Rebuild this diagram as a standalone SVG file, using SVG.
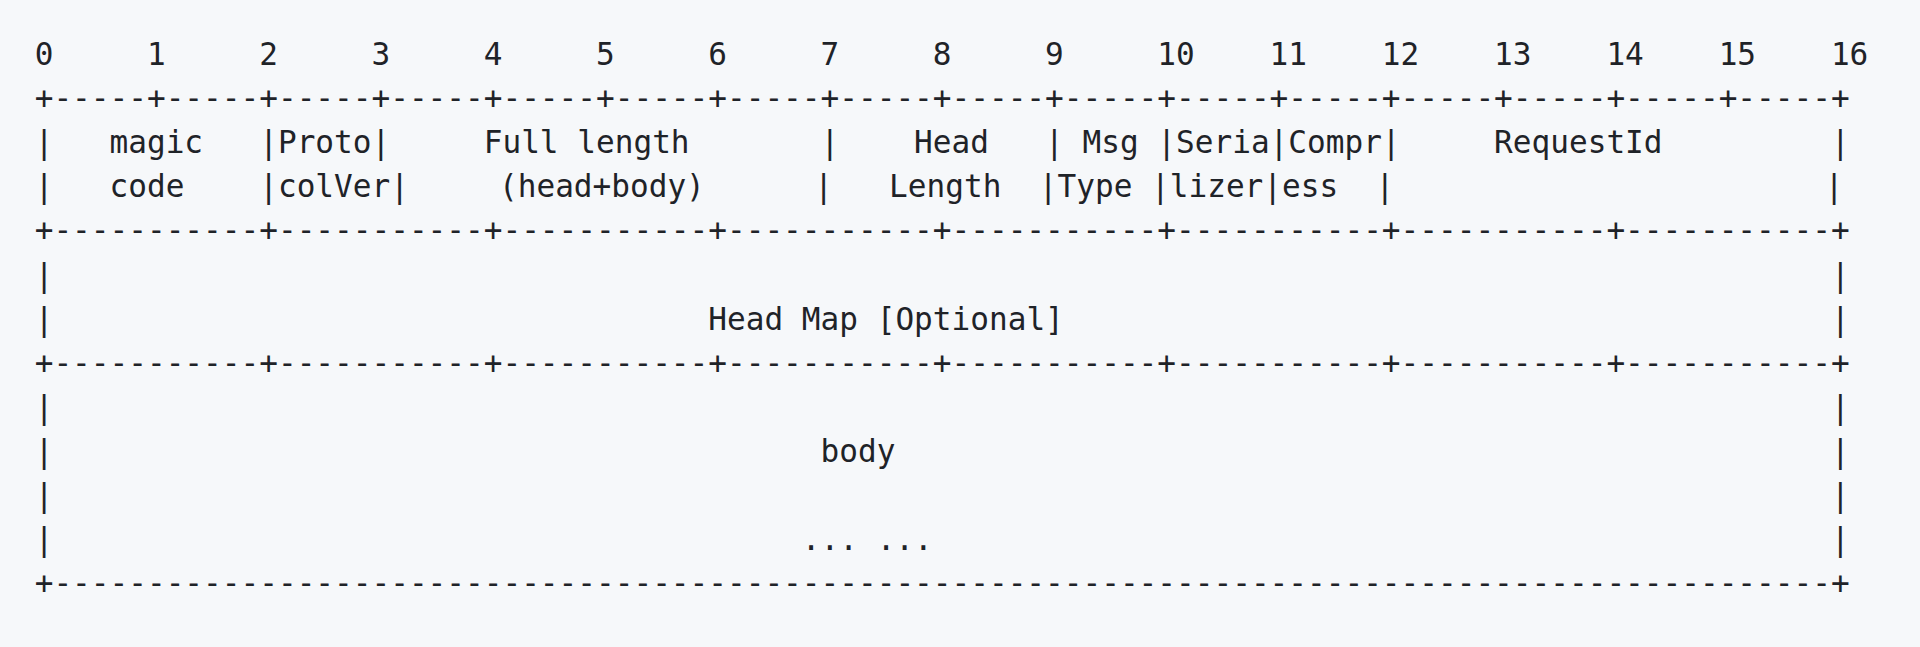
<svg xmlns="http://www.w3.org/2000/svg" width="1920" height="647" viewBox="0 0 1920 647">
<style>
text{font-family:"DejaVu Sans Mono","Liberation Mono",monospace;font-size:31.08px;fill:#1f2328;white-space:pre}
</style>
<rect x="0" y="0" width="1920" height="647" fill="#f6f8fa"/>
<g id="ruler">
<text x="34.7" y="65" xml:space="preserve">0     1     2     3     4     5     6     7     8     9     10    11    12    13    14    15    16</text>
<text x="34.7" y="109.1" xml:space="preserve">+-----+-----+-----+-----+-----+-----+-----+-----+-----+-----+-----+-----+-----+-----+-----+-----+</text>
</g>
<g id="header-fields">
<text x="34.7" y="153.2" xml:space="preserve">|   magic   |Proto|     Full length       |    Head   | Msg |Seria|Compr|     RequestId         |</text>
<text x="34.7" y="197.3" xml:space="preserve">|   code    |colVer|<tspan x="499">(head+body)</tspan><tspan x="702">      |   Length  |Type |lizer|ess  |                       |</tspan></text>
<text x="34.7" y="241.4" xml:space="preserve">+-----------+-----------+-----------+-----------+-----------+-----------+-----------+-----------+</text>
</g>
<g id="head-map">
<text x="34.7" y="285.5">|</text><text x="1830.9" y="285.5">|</text>
<text x="34.7" y="329.6">|</text><text x="708.3" y="329.6">Head Map [Optional]</text><text x="1830.9" y="329.6">|</text>
<text x="34.7" y="373.7" xml:space="preserve">+-----------+-----------+-----------+-----------+-----------+-----------+-----------+-----------+</text>
</g>
<g id="body">
<text x="34.7" y="417.8">|</text><text x="1830.9" y="417.8">|</text>
<text x="34.7" y="461.9">|</text><text x="820.5" y="461.9">body</text><text x="1830.9" y="461.9">|</text>
<text x="34.7" y="506">|</text><text x="1830.9" y="506">|</text>
<text x="34.7" y="550.1">|</text><text x="801.8" y="550.1" xml:space="preserve">... ...</text><text x="1830.9" y="550.1">|</text>
<text x="34.7" y="594.2" xml:space="preserve">+-----------------------------------------------------------------------------------------------+</text>
</g>
</svg>
